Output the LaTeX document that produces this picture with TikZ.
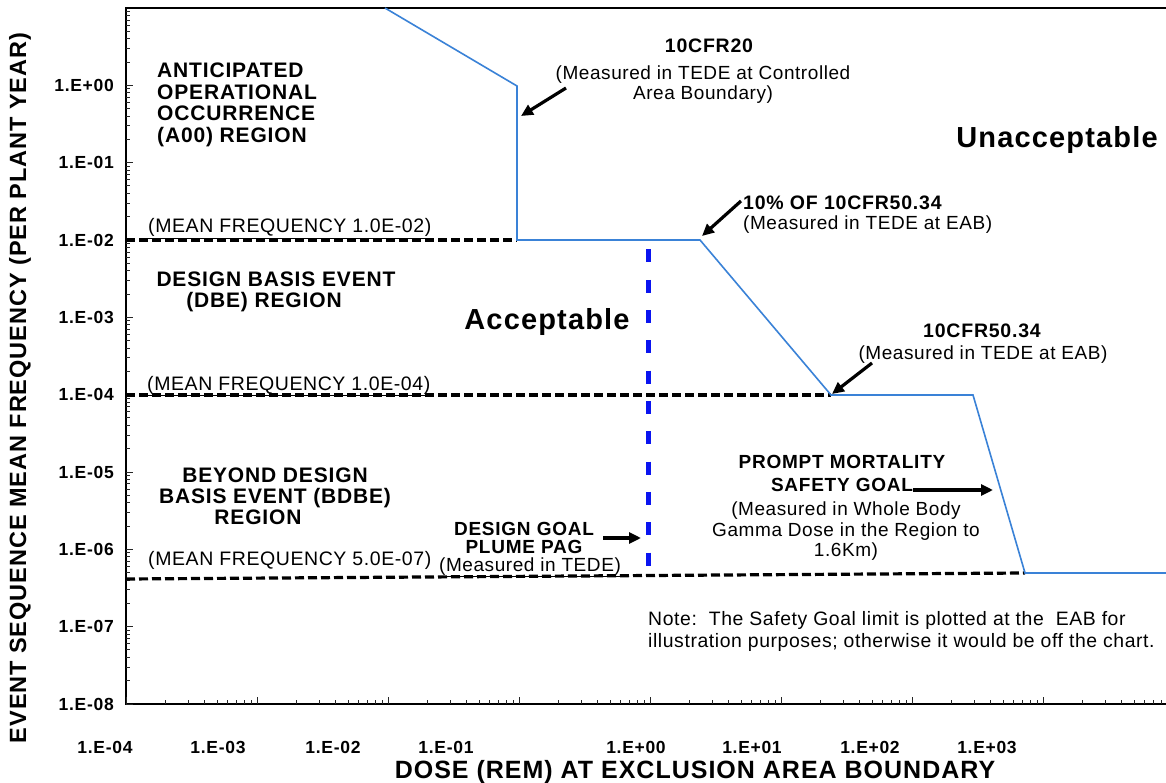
\documentclass[tikz,border=0pt]{standalone}
\usepackage{fontspec}
\setmainfont{Liberation Sans}[LetterSpace=3]
\newfontfamily\bsf{Liberation Sans}[LetterSpace=4]
\usetikzlibrary{arrows.meta}
\definecolor{curveblue}{RGB}{58,130,215}
\definecolor{pagblue}{RGB}{10,20,240}
\newcommand\myfs[2]{\fontsize{#1}{#2}\selectfont}
\tikzset{
  bl/.style n args={2}{inner sep=0pt, font=\bsf\bfseries\myfs{#1}{#2}},
  rg/.style n args={2}{inner sep=0pt, font=\myfs{#1}{#2}},
  frame/.style={line width=2.8pt, draw=black},
  tick/.style={line width=1pt, draw=black!85},
  curve/.style={draw=curveblue, line width=1.6pt, line join=miter},
  lim/.style={draw=black, line width=3.2pt, dash pattern=on 9pt off 4pt},
  pag/.style={draw=pagblue, line width=5pt, dash pattern=on 13pt off 17.3pt},
  arr/.style={draw=black, line width=3.2pt, -{Triangle[length=12pt,width=11pt]}},
}
\begin{document}
\begin{tikzpicture}[x=1pt,y=-1pt]
\useasboundingbox (0,0) rectangle (1166,783);
\clip (0,0) rectangle (1166,783);
\fill[white] (0,0) rectangle (1166,783);

% frame and ticks
\coordinate (tl) at (126,8);
\coordinate (br) at (1174,704);
\draw[frame] (tl) rectangle (br);
\foreach \d in {0,...,8} {
  \foreach \k in {2,...,9} {\draw[tick] (126,{704-77.33*(\d+log10(\k))}) -- ++(4,0);}
  \draw[tick] (126,{704-77.33*\d}) -- ++(7,0);
}
\foreach \d in {0,...,7} {
  \foreach \k in {2,...,9} {\draw[tick] ({126+131*(\d+log10(\k))},704) -- ++(0,-4);}
  \draw[tick] ({126+131*\d},704) -- ++(0,-7);
}

% axis labels
\foreach \d/\lab in {0/{1.E-08},1/{1.E-07},2/{1.E-06},3/{1.E-05},4/{1.E-04},5/{1.E-03},6/{1.E-02},7/{1.E-01},8/{1.E+00}}
  \node[bl={17.5}{18}, anchor=east] (yl\d) at (114,{704-77.33*\d}) {\lab};
\foreach \xx/\lab [count=\i] in {105/{1.E-04},218/{1.E-03},333/{1.E-02},446/{1.E-01},636/{1.E+00},752/{1.E+01},870/{1.E+02},987/{1.E+03}}
  \node[bl={17.5}{18}, anchor=base] (xl\i) at (\xx,753) {\lab};
\node[bl={25}{25}, anchor=base] (xt) at (695,778) {DOSE (REM) AT EXCLUSION AREA BOUNDARY};
\node[bl={23.5}{24}, rotate=90] (yt) at (20,388) {EVENT SEQUENCE MEAN FREQUENCY (PER PLANT YEAR)};

% limit curve
\coordinate (c0) at (385,8);
\coordinate (c1) at (517,86);
\coordinate (c2) at (517,240);
\coordinate (c3) at (700,240);
\coordinate (c4) at (831,395);
\coordinate (c5) at (973,395);
\coordinate (c6) at (1025,573);
\coordinate (c7) at (1180,573);

% dashed frequency lines
\coordinate (d2) at (126,240);
\coordinate (d4) at (126,395);
\coordinate (d7s) at (126,579);
\coordinate (d7e) at (1025,573);
\draw[lim] (d2) -- (c2);
\draw[lim] (d4) -- (c4);
\draw[lim] (d7s) -- (d7e);

\draw[curve] (c0) -- (c1) -- (c2) -- (c3) -- (c4) -- (c5) -- (c6) -- (c7);

% PAG line
\coordinate (p0) at (648,249.5);
\coordinate (p1) at (648,568);
\draw[pag] (p0) -- (p1);

% region labels
\node[bl={21}{21.5}, align=left, anchor=north west] (aoo) at (157,63) {ANTICIPATED\\OPERATIONAL\\OCCURRENCE\\(A00) REGION};
\node[bl={21}{21}, align=center, anchor=north] (dbe) at (276,272) {DESIGN BASIS EVENT\\(DBE) REGION\hspace*{24pt}};
\node[bl={21}{21}, align=center, anchor=north] (bdbe) at (275,468) {BEYOND DESIGN\\BASIS EVENT (BDBE)\\REGION\hspace*{34pt}};
\node[bl={29}{29}, anchor=base] (acc) at (547,330) {Acceptable};
\node[bl={29}{29}, anchor=base] (unacc) at (1057,148) {Unacceptable};

% annotations
\node[bl={19.5}{20}, anchor=base] (cfr20) at (709,53) {10CFR20};
\node[rg={19}{20}, align=center, anchor=north] (cfr20m) at (703,66) {(Measured in TEDE at Controlled\\Area Boundary)};
\node[bl={19.5}{20}, anchor=base west] (pct) at (743,210) {10\% OF 10CFR50.34};
\node[rg={19}{20}, anchor=base west] (pctm) at (743,230) {(Measured in TEDE at EAB)};
\node[bl={19.5}{20}, anchor=base] (cfr50) at (982,337) {10CFR50.34};
\node[rg={19}{20}, anchor=base] (cfr50m) at (983,359) {(Measured in TEDE at EAB)};
\node[bl={19}{23}, align=center, anchor=north] (pm) at (842,455) {PROMPT MORTALITY\\SAFETY GOAL};
\node[rg={19}{20.5}, align=center, anchor=north] (pmm) at (846,502) {(Measured in Whole Body\\Gamma Dose in the Region to\\1.6Km)};
\node[bl={19}{18.5}, align=center, anchor=north] (dg) at (524,522) {DESIGN GOAL\\PLUME PAG};
\node[rg={19}{20}, anchor=base] (dgm) at (530,571) {\underline{(Measured in TEDE)}};
\node[rg={19.5}{20}, anchor=base west] (mf2) at (148,233) {\underline{(MEAN FREQUENCY 1.0E-02)}};
\node[rg={19.5}{20}, anchor=base west] (mf4) at (147,390) {\underline{(MEAN FREQUENCY 1.0E-04)}};
\node[rg={19.5}{20}, anchor=base west] (mf7) at (148,565) {(MEAN FREQUENCY 5.0E-07)};
\node[rg={19.4}{22}, align=left, anchor=north west] (note) at (648,611) {Note:\ \ The Safety Goal limit is plotted at the\ \ EAB for\\illustration purposes; otherwise it would be off the chart.};

% arrows
\coordinate (a1s) at (566,88);  \coordinate (a1e) at (521,116);
\coordinate (a2s) at (741,201); \coordinate (a2e) at (702,236);
\coordinate (a3s) at (872,363); \coordinate (a3e) at (832,394);
\coordinate (a4s) at (603,538); \coordinate (a4e) at (641,538);
\coordinate (a5s) at (913,490); \coordinate (a5e) at (993,490);
\draw[arr] (a1s) -- (a1e);
\draw[arr] (a2s) -- (a2e);
\draw[arr] (a3s) -- (a3e);
\draw[arr] (a4s) -- (a4e);
\draw[arr] (a5s) -- (a5e);
\end{tikzpicture}
\end{document}
